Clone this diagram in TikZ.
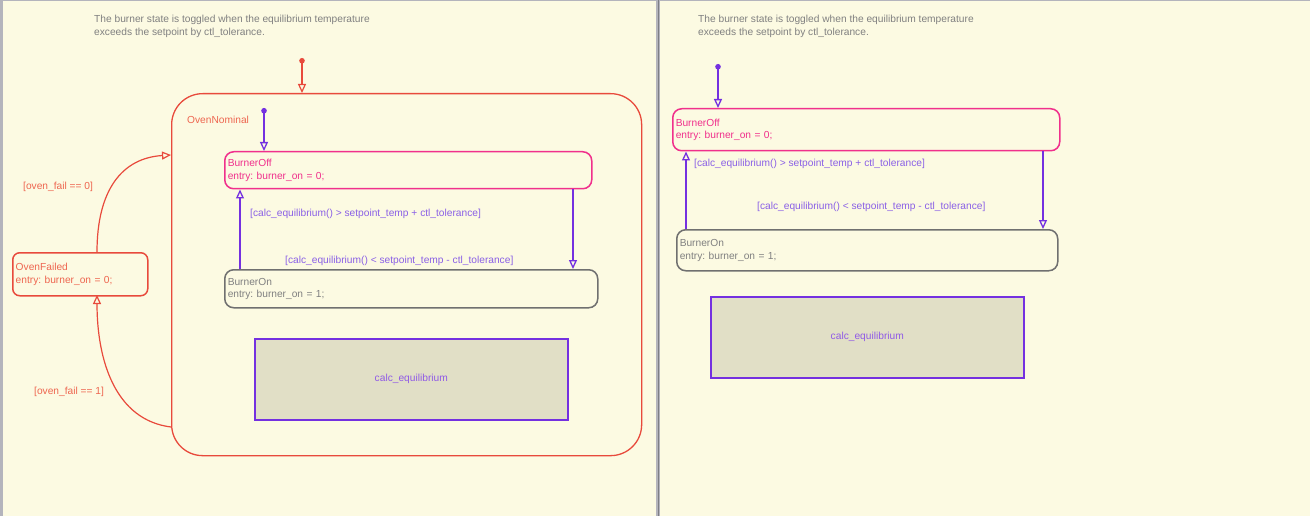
\documentclass[tikz,border=0pt]{standalone}
\usepackage{fontspec}
\setmainfont{Liberation Sans}
\usetikzlibrary{arrows.meta}
\definecolor{bg}{HTML}{FCFAE2}
\definecolor{frame}{HTML}{B4B4BC}
\definecolor{redL}{HTML}{E84A3C}
\definecolor{redT}{HTML}{EE6650}
\definecolor{mag}{HTML}{F0308C}
\definecolor{purL}{HTML}{7430E0}
\definecolor{purT}{HTML}{8A60E6}
\definecolor{grayL}{HTML}{707070}
\definecolor{grayT}{HTML}{808080}
\definecolor{calcfill}{HTML}{E1DFC6}
\frenchspacing
\tikzset{
  txt/.style={font=\fontsize{10.2}{12.5}\selectfont, inner sep=0pt},
  note/.style={txt, text=grayT, anchor=west, align=left},
  stbox/.style={rectangle, rounded corners=9pt, line width=1.5pt, anchor=north west,
    align=left, inner xsep=3pt, inner ysep=0pt, font=\fontsize{10.2}{12.5}\selectfont},
  offbox/.style={stbox, draw=mag, text=mag},
  onbox/.style={stbox, draw=grayL, text=grayT},
  failbox/.style={stbox, draw=redL, text=redT, rounded corners=7pt},
  calcbox/.style={rectangle, draw=purL, fill=calcfill, line width=1.6pt, anchor=north west,
    text=purL!80, font=\fontsize{10.2}{12}\selectfont},
  ptrans/.style={draw=purL, line width=1.5pt, -{Triangle[open, length=9pt, width=8pt, line width=1.3pt]}},
  rtrans/.style={draw=redL, line width=1.2pt, -{Triangle[open, length=9pt, width=8pt, line width=1.2pt]}},
  pdef/.style={ptrans, {Circle[length=5.5pt]}-{Triangle[open, length=9pt, width=8pt, line width=1.3pt]}},
  rdef/.style={rtrans, {Circle[length=5.5pt]}-{Triangle[open, length=9pt, width=8pt, line width=1.2pt]}},
  plabel/.style={txt, text=purT, anchor=west},
  rlabel/.style={txt, text=redT, anchor=west},
}
\begin{document}
\begin{tikzpicture}[x=1pt, y=-1pt]
\useasboundingbox (0,0) rectangle (1310,516);
\fill[bg] (0,0) rectangle (1310,516);
% frames
\draw[frame, line width=1.2pt] (0.6,0.6) -- (1310,0.6);
\draw[frame, line width=3pt] (1.5,0) -- (1.5,516);
\draw[frame, line width=4pt] (658,0) -- (658,516);
\draw[frame!70!black, line width=0.8pt] (658,0) -- (658,516);

% ================= LEFT PANEL =================
\node[note] (cmtL) at (94,26.5) {The burner state is toggled when the equilibrium temperature\\exceeds the setpoint by ctl\_tolerance.};

% OvenNominal superstate
\node[draw=redL, line width=1.3pt, rounded corners=31pt, anchor=north west,
      minimum width=470pt, minimum height=362pt, inner sep=0pt] (ON) at (171,93) {};
\node[rlabel] (ONlbl) at (187,120) {OvenNominal};

\coordinate (ONtopdot) at (302,58);
\coordinate (ONtop) at (302,93);
\draw[rdef] (ONtopdot) -- (ONtop);

% BurnerOff (left)
\node[offbox, minimum width=367pt, minimum height=37pt, text width=361pt] (OffL) at (224,151)
  {BurnerOff\\entry: burner\_on = 0;};
% BurnerOn (left)
\node[onbox, minimum width=373pt, minimum height=38pt, text width=367pt] (OnL) at (224,269)
  {BurnerOn\\entry: burner\_on = 1;};
% calc_equilibrium (left)
\node[calcbox, minimum width=313pt, minimum height=81pt] (CalcL) at (254,338) {calc\_equilibrium};

\coordinate (OffLdot) at (264,108);
\draw[pdef] (OffLdot) -- (OffL.north west -| OffLdot);

\draw[ptrans] (OnL.north west -| 240,0) -- (OffL.south west -| 240,0);
\draw[ptrans] (OffL.south west -| 573,0) -- (OnL.north west -| 573,0);
\node[plabel] (lblUpL) at (250,214) {[calc\_equilibrium() > setpoint\_temp + ctl\_tolerance]};
\node[plabel] (lblDnL) at (285,261) {[calc\_equilibrium() < setpoint\_temp - ctl\_tolerance]};

% OvenFailed
\node[failbox, minimum width=135pt, minimum height=43pt, text width=129pt] (OF) at (12,252)
  {OvenFailed\\entry: burner\_on = 0;};

\coordinate (OFtop) at (97,252);
\coordinate (OFbot) at (97,295);
\coordinate (ONin) at (171,155);
\coordinate (ONout) at (171,427);
\draw[rtrans] (OFtop) .. controls (97,190) and (122,158) .. (ONin);
\draw[rtrans] (ONout) .. controls (115,420) and (97,360) .. (OFbot);
\node[rlabel] (lblF0) at (23,187) {[oven\_fail == 0]};
\node[rlabel] (lblF1) at (34,392) {[oven\_fail == 1]};

% ================= RIGHT PANEL =================
\node[note] (cmtR) at (698,26.5) {The burner state is toggled when the equilibrium temperature\\exceeds the setpoint by ctl\_tolerance.};

\node[offbox, minimum width=387pt, minimum height=42pt, text width=381pt] (OffR) at (672,108)
  {BurnerOff\\entry: burner\_on = 0;};
\node[onbox, minimum width=381pt, minimum height=41pt, text width=375pt] (OnR) at (676,229)
  {BurnerOn\\entry: burner\_on = 1;};
\node[calcbox, minimum width=313pt, minimum height=81pt] (CalcR) at (710,296) {calc\_equilibrium};

\coordinate (OffRdot) at (718,64);
\draw[pdef] (OffRdot) -- (OffR.north west -| OffRdot);

\draw[ptrans] (OnR.north west -| 686,0) -- (OffR.south west -| 686,0);
\draw[ptrans] (OffR.south west -| 1043,0) -- (OnR.north west -| 1043,0);
\node[plabel] (lblUpR) at (694,164) {[calc\_equilibrium() > setpoint\_temp + ctl\_tolerance]};
\node[plabel] (lblDnR) at (757,207) {[calc\_equilibrium() < setpoint\_temp - ctl\_tolerance]};
\end{tikzpicture}
\end{document}
